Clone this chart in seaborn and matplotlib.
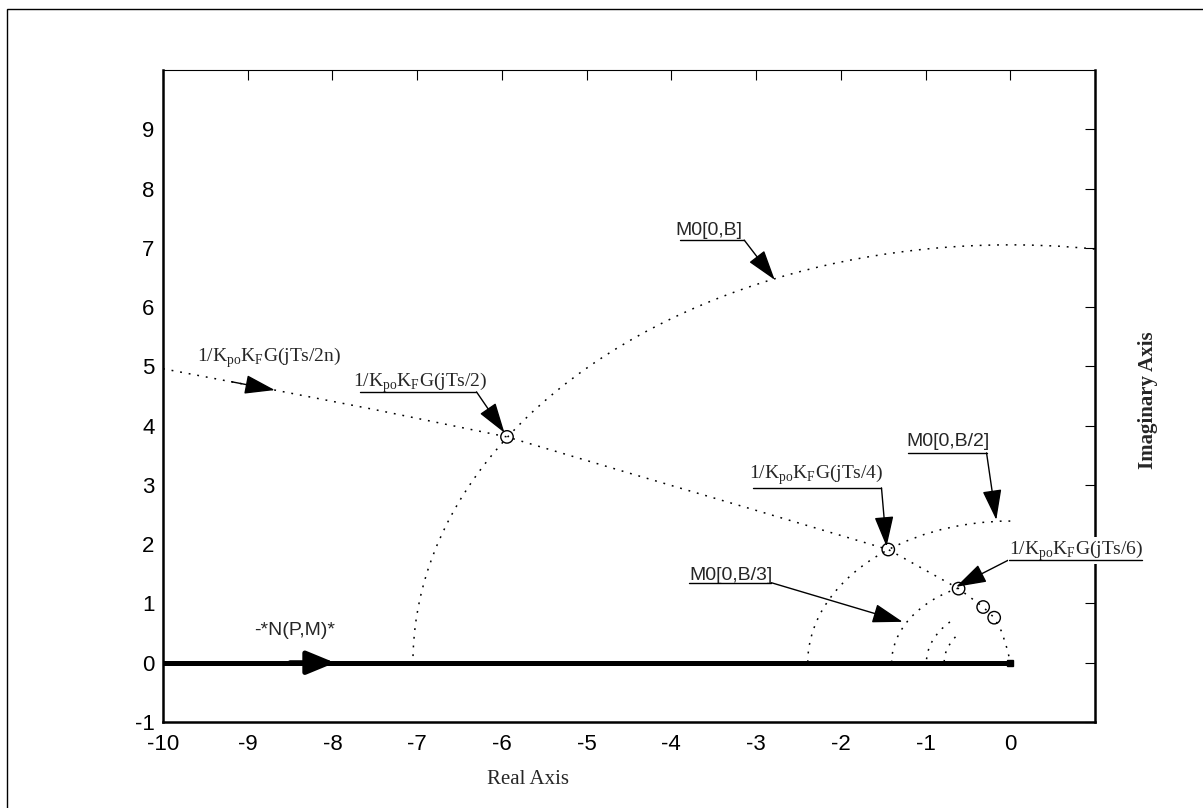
import numpy as np
import pandas as pd
import seaborn as sns
import matplotlib.pyplot as plt
from matplotlib.patches import Arc, Rectangle

# locus 1/KpoKFG(jw)
locus_re = [-10.0, -8.68, -7.5, -5.94, -4.5, -3.0, -1.44, -0.95, -0.61, -0.32, -0.19, -0.10, -0.03, 0.0]
locus_im = [4.96, 4.60, 4.27, 3.81, 3.20, 2.57, 1.91, 1.52, 1.25, 0.94, 0.76, 0.52, 0.20, 0.0]

# M0 circles (centre at origin): radius and angle where the drawn arc stops
m0_radius = [7.05, 2.39, 1.40, 0.99, 0.78]
m0_theta = [70, 90, 116, 136, 146]

# intersection points marked with circles
cross_re = [-5.94, -1.44, -0.61, -0.32, -0.19]
cross_im = [3.81, 1.91, 1.25, 0.94, 0.76]

# -N(P,M) locus on the real axis
n_re = [-10.0, 0.0]
n_im = [0.0, 0.0]

x_ticks = list(range(-10, 1))
y_ticks = list(range(-1, 10))

# labels: text, font, text anchor, underline (x0, x1, y), arrow start, arrow tip
notes = [
    (r"1/K$_\mathregular{po}$K$_\mathregular{F}$G(jTs/2n)", "serif", (-9.6, 5.14), None, (-9.19, 4.74), (-8.68, 4.60)),
    (r"1/K$_\mathregular{po}$K$_\mathregular{F}$G(jTs/2)", "serif", (-7.76, 4.72), (-7.68, -6.30, 4.57), (-6.30, 4.57), (-5.97, 3.88)),
    ("M0[0,B]", "sans", (-3.95, 7.30), (-3.90, -3.14, 7.13), (-3.14, 7.13), (-2.78, 6.46)),
    ("M0[0,B/2]", "sans", (-1.23, 3.73), (-1.21, -0.28, 3.54), (-0.28, 3.54), (-0.165, 2.41)),
    (r"1/K$_\mathregular{po}$K$_\mathregular{F}$G(jTs/4)", "serif", (-3.08, 3.17), (-3.04, -1.52, 2.95), (-1.52, 2.95), (-1.46, 1.96)),
    (r"1/K$_\mathregular{po}$K$_\mathregular{F}$G(jTs/6)", "serif", (-0.01, 1.89), (-0.01, 1.56, 1.74), (-0.01, 1.74), (-0.64, 1.28)),
    ("M0[0,B/3]", "sans", (-3.79, 1.48), (-3.79, -2.82, 1.35), (-2.82, 1.35), (-1.27, 0.69)),
]

sns.set_theme(style="white")
plt.rcParams["font.family"] = ["Liberation Sans", "DejaVu Sans"]
plt.rcParams["mathtext.fontset"] = "custom"
plt.rcParams["mathtext.rm"] = "Liberation Serif"
plt.rcParams["axes.unicode_minus"] = False

fig = plt.figure(figsize=(12.03, 8.08), dpi=100)
W, H = 1203, 808
ax = fig.add_axes([163 / W, 1 - 722 / H, (1095 - 163) / W, (722 - 70) / H])

# figure frame
fig.patches.append(Rectangle((7 / W, -0.1), 1.2, 1.1 - 9 / H, transform=fig.transFigure,
                             fill=False, lw=1, ec="black"))

dots = (0, (1.2, 4.5))

locus = pd.DataFrame({"re": locus_re, "im": locus_im})
sns.lineplot(data=locus, x="re", y="im", ax=ax, color="black", lw=1.1,
             linestyle=dots, sort=False, estimator=None)

for r, th in zip(m0_radius, m0_theta):
    ax.add_patch(Arc((0, 0), 2 * r, 2 * r, theta1=th, theta2=180,
                     color="black", lw=1.1, linestyle=dots))

nline = pd.DataFrame({"re": n_re, "im": n_im})
sns.lineplot(data=nline, x="re", y="im", ax=ax, color="black", lw=3.6,
             sort=False, estimator=None)
ax.plot(n_re[-1], n_im[-1], marker="s", ms=4, color="black")
ax.annotate("", xy=(-7.97, 0), xytext=(-8.5, 0),
            arrowprops=dict(arrowstyle="-|>,head_length=1.7,head_width=0.7",
                            mutation_scale=10, color="black", lw=3.6,
                            shrinkA=0, shrinkB=0))

sns.scatterplot(x=cross_re, y=cross_im, ax=ax, marker="o", s=80,
                facecolors="none", edgecolor="black", linewidth=1)

for label, kind, pos, uline, start, tip in notes:
    fam = "Liberation Serif" if kind == "serif" else "Liberation Sans"
    bbox = None
    if pos[0] > -0.5:
        bbox = dict(fc="white", ec="none", pad=1)
    ax.text(pos[0], pos[1], label, family=fam, fontsize=14, va="center",
            ha="left", clip_on=False, bbox=bbox, zorder=5)
    if uline is not None:
        ax.plot([uline[0], uline[1]], [uline[2], uline[2]], color="black",
                lw=1, clip_on=False, zorder=6)
    ax.annotate("", xy=tip, xytext=start,
                arrowprops=dict(arrowstyle="-|>,head_length=1.9,head_width=0.6",
                                mutation_scale=10, color="black", lw=1,
                                shrinkA=0, shrinkB=0))

ax.text(-8.92, 0.54, "-*N(P,M)*", fontsize=14, va="center", ha="left",
        family="Liberation Sans")

ax.set_xlim(-10, 1)
ax.set_ylim(-1, 10)
ax.set_xticks(x_ticks)
ax.set_yticks(y_ticks)
ax.set_xlabel("")
ax.set_ylabel("")
ax.tick_params(direction="in", length=7, width=0.8, top=True, right=True,
               labelsize=16, colors="black")
ax.tick_params(axis="x", pad=9)
ax.tick_params(axis="y", pad=6)
for side in ["left", "bottom", "right"]:
    ax.spines[side].set_linewidth(1.8)
ax.spines["top"].set_linewidth(0.8)
for s in ax.spines.values():
    s.set_color("black")
    s.set_visible(True)

fig.text(487 / W, 1 - 780 / H, "Real Axis", family="Liberation Serif",
         fontsize=15, va="center", ha="left")
fig.text(1148 / W, 1 - 400 / H, "Imaginary Axis", family="Liberation Serif",
         fontweight="bold", fontsize=15, rotation=90, va="center", ha="center")

fig.savefig("out.png", dpi=100)
